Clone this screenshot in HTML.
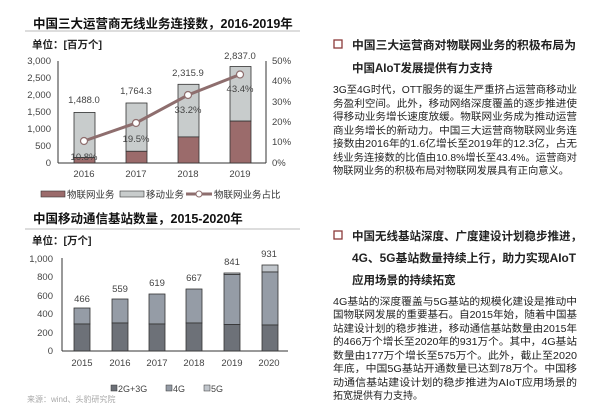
<!DOCTYPE html>
<html><head><meta charset="utf-8"><style>
body{margin:0;background:#fff;width:600px;height:407px;overflow:hidden}
svg text{font-family:"Liberation Sans","Noto Sans CJK SC",sans-serif}
</style></head><body>
<svg width="600" height="407" xmlns="http://www.w3.org/2000/svg">
<!-- Chart 1 -->
<text x="33" y="28" font-size="12.5" font-weight="bold" fill="#111">中国三大运营商无线业务连接数，2016-2019年</text>
<line x1="25" y1="31" x2="300" y2="31" stroke="#bbb" stroke-width="1"/>
<text x="32" y="48" font-size="10.5" font-weight="bold" fill="#222">单位：[百万个]</text>
<g font-size="9.5" fill="#444" text-anchor="end">
<text x="51" y="64">3,000</text><text x="51" y="81">2,500</text><text x="51" y="98">2,000</text>
<text x="51" y="115">1,500</text><text x="51" y="132">1,000</text><text x="51" y="149">500</text><text x="51" y="166">0</text></g>
<g font-size="9.5" fill="#444"><text x="272" y="64">50%</text><text x="272" y="84">40%</text><text x="272" y="105">30%</text>
<text x="272" y="125">20%</text><text x="272" y="145">10%</text><text x="272" y="166">0%</text></g>
<line x1="58" y1="61" x2="58" y2="163" stroke="#333"/>
<line x1="266" y1="61" x2="266" y2="163" stroke="#333"/>
<line x1="58" y1="163" x2="266" y2="163" stroke="#333"/>
<g stroke="#333" stroke-width="0.8">
<rect x="74" y="112.4" width="21" height="45.2" fill="#c8cccc"/><rect x="74" y="157.6" width="21" height="5.4" fill="#9b6b6b"/>
<rect x="126" y="103" width="21" height="48.3" fill="#c8cccc"/><rect x="126" y="151.3" width="21" height="11.7" fill="#9b6b6b"/>
<rect x="178" y="84.3" width="21" height="52.6" fill="#c8cccc"/><rect x="178" y="136.9" width="21" height="26.1" fill="#9b6b6b"/>
<rect x="230" y="66.5" width="21" height="54.6" fill="#c8cccc"/><rect x="230" y="121.1" width="21" height="41.9" fill="#9b6b6b"/>
</g>
<g font-size="9.5" fill="#444" text-anchor="middle">
<text x="84" y="103">1,488.0</text><text x="136" y="94">1,764.3</text><text x="188" y="76">2,315.9</text><text x="240" y="59">2,837.0</text>
<text x="84" y="177">2016</text><text x="136" y="177">2017</text><text x="188" y="177">2018</text><text x="240" y="177">2019</text>
<text x="84" y="160">10.8%</text><text x="136" y="142">19.5%</text><text x="188" y="113">33.2%</text><text x="240" y="92">43.4%</text></g>
<polyline points="84,141 136,123 188,95 240,74.5" fill="none" stroke="#8e6e6e" stroke-width="3"/>
<g fill="#fff" stroke="#8e6e6e" stroke-width="1.2"><circle cx="84" cy="141" r="3.5"/><circle cx="136" cy="123" r="3.5"/><circle cx="188" cy="95" r="3.5"/><circle cx="240" cy="74.5" r="3.5"/></g>
<rect x="41" y="191" width="24" height="6" fill="#9b6b6b" stroke="#333" stroke-width="0.6"/>
<text x="67" y="198" font-size="9.5" fill="#333">物联网业务</text>
<rect x="120" y="191" width="24" height="6" fill="#c8cccc" stroke="#333" stroke-width="0.6"/>
<text x="146" y="198" font-size="9.5" fill="#333">移动业务</text>
<line x1="186" y1="194" x2="212" y2="194" stroke="#8e6e6e" stroke-width="3"/><circle cx="199" cy="194" r="3" fill="#fff" stroke="#8e6e6e"/>
<text x="214" y="198" font-size="9.5" fill="#333">物联网业务占比</text>
<!-- Chart 2 -->
<text x="33" y="223" font-size="12.5" font-weight="bold" fill="#111">中国移动通信基站数量，2015-2020年</text>
<line x1="25" y1="229" x2="300" y2="229" stroke="#bbb" stroke-width="1"/>
<text x="32" y="244" font-size="10.5" font-weight="bold" fill="#222">单位：[万个]</text>
<g font-size="9.5" fill="#444" text-anchor="end">
<text x="53" y="262">1,000</text><text x="53" y="280">800</text><text x="53" y="299">600</text><text x="53" y="317">400</text><text x="53" y="336">200</text><text x="53" y="354">0</text></g>
<line x1="62" y1="258" x2="62" y2="351" stroke="#333"/>
<line x1="62" y1="351" x2="288" y2="351" stroke="#333"/>
<g stroke="#333" stroke-width="0.8">
<rect x="74" y="308" width="16" height="16" fill="#959ca6"/><rect x="74" y="324" width="16" height="27" fill="#6d7178"/>
<rect x="112" y="299" width="16" height="24" fill="#959ca6"/><rect x="112" y="323" width="16" height="28" fill="#6d7178"/>
<rect x="149" y="294" width="16" height="30" fill="#959ca6"/><rect x="149" y="324" width="16" height="27" fill="#6d7178"/>
<rect x="186" y="289" width="16" height="34" fill="#959ca6"/><rect x="186" y="323" width="16" height="28" fill="#6d7178"/>
<rect x="224" y="273" width="16" height="1.5" fill="#c1c6cc"/><rect x="224" y="274.5" width="16" height="50" fill="#959ca6"/><rect x="224" y="324.5" width="16" height="26.5" fill="#6d7178"/>
<rect x="262" y="265" width="16" height="7" fill="#c1c6cc"/><rect x="262" y="272" width="16" height="53" fill="#959ca6"/><rect x="262" y="325" width="16" height="26" fill="#6d7178"/>
</g>
<g font-size="9.5" fill="#444" text-anchor="middle">
<text x="82" y="302">466</text><text x="120" y="292">559</text><text x="157" y="286">619</text><text x="194" y="281">667</text><text x="232" y="265">841</text><text x="269" y="257">931</text>
<text x="82" y="366">2015</text><text x="120" y="366">2016</text><text x="157" y="366">2017</text><text x="194" y="366">2018</text><text x="232" y="366">2019</text><text x="269" y="366">2020</text></g>
<rect x="111" y="385" width="6" height="6" fill="#6d7178" stroke="#333" stroke-width="0.5"/><text x="118" y="392" font-size="9" fill="#444">2G+3G</text>
<rect x="166" y="385" width="6" height="6" fill="#959ca6" stroke="#333" stroke-width="0.5"/><text x="173" y="392" font-size="9" fill="#444">4G</text>
<rect x="204" y="385" width="6" height="6" fill="#c1c6cc" stroke="#333" stroke-width="0.5"/><text x="211" y="392" font-size="9" fill="#444">5G</text>
<text x="27" y="402" font-size="8" fill="#aaa">来源：wind、头豹研究院</text>
<!-- Right text -->
<rect x="334" y="40" width="8" height="8" fill="none" stroke="#8b3a3a" stroke-width="1.3"/>
<g font-size="11.5" font-weight="bold" fill="#222">
<text x="352" y="49" textLength="224" lengthAdjust="spacingAndGlyphs">中国三大运营商对物联网业务的积极布局为</text>
<text x="352" y="72">中国AIoT发展提供有力支持</text></g>
<g font-size="10" fill="#222">
<text x="333" y="93" textLength="244" lengthAdjust="spacingAndGlyphs">3G至4G时代，OTT服务的诞生严重挤占运营商移动业</text>
<text x="333" y="107" textLength="244" lengthAdjust="spacingAndGlyphs">务盈利空间。此外，移动网络深度覆盖的逐步推进使</text>
<text x="333" y="120" textLength="244" lengthAdjust="spacingAndGlyphs">得移动业务增长速度放缓。物联网业务成为推动运营</text>
<text x="333" y="134" textLength="244" lengthAdjust="spacingAndGlyphs">商业务增长的新动力。中国三大运营商物联网业务连</text>
<text x="333" y="147" textLength="244" lengthAdjust="spacingAndGlyphs">接数由2016年的1.6亿增长至2019年的12.3亿，占无</text>
<text x="333" y="161" textLength="244" lengthAdjust="spacingAndGlyphs">线业务连接数的比值由10.8%增长至43.4%。运营商对</text>
<text x="333" y="174" textLength="236" lengthAdjust="spacingAndGlyphs">物联网业务的积极布局对物联网发展具有正向意义。</text></g>
<rect x="334" y="231" width="8" height="8" fill="none" stroke="#8b3a3a" stroke-width="1.3"/>
<g font-size="11.5" font-weight="bold" fill="#222">
<text x="352" y="240" textLength="230" lengthAdjust="spacingAndGlyphs">中国无线基站深度、广度建设计划稳步推进，</text>
<text x="352" y="262" textLength="224" lengthAdjust="spacingAndGlyphs">4G、5G基站数量持续上行，助力实现AIoT</text>
<text x="352" y="284">应用场景的持续拓宽</text></g>
<g font-size="10" fill="#222">
<text x="333" y="305" textLength="244" lengthAdjust="spacingAndGlyphs">4G基站的深度覆盖与5G基站的规模化建设是推动中</text>
<text x="333" y="318" textLength="244" lengthAdjust="spacingAndGlyphs">国物联网发展的重要基石。自2015年始，随着中国基</text>
<text x="333" y="332" textLength="244" lengthAdjust="spacingAndGlyphs">站建设计划的稳步推进，移动通信基站数量由2015年</text>
<text x="333" y="345" textLength="244" lengthAdjust="spacingAndGlyphs">的466万个增长至2020年的931万个。其中，4G基站</text>
<text x="333" y="359" textLength="244" lengthAdjust="spacingAndGlyphs">数量由177万个增长至575万个。此外，截止至2020</text>
<text x="333" y="372" textLength="244" lengthAdjust="spacingAndGlyphs">年底，中国5G基站开通数量已达到78万个。中国移</text>
<text x="333" y="386" textLength="244" lengthAdjust="spacingAndGlyphs">动通信基站建设计划的稳步推进为AIoT应用场景的</text>
<text x="333" y="399">拓宽提供有力支持。</text></g>
</svg>
</body></html>
